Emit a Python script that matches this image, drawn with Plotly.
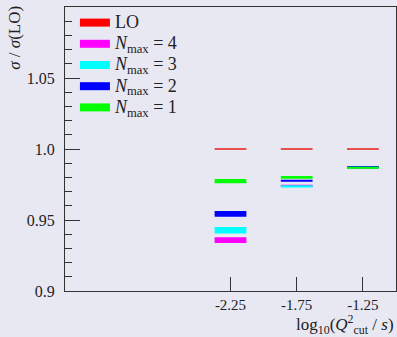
import plotly.graph_objects as go

x_cut = [-2.25, -1.75, -1.25]
lo = [1.0, 1.0, 1.0]
n4 = [0.9358, 0.9740, 0.9871]
n3 = [0.9428, 0.9737, 0.9871]
n2 = [0.9543, 0.9776, 0.9872]
n1 = [0.9774, 0.9800, 0.9868]
h_lo = [0.0006, 0.0006, 0.0006]
h4 = [0.0040, 0.0015, 0.0015]
h3 = [0.0045, 0.0017, 0.0015]
h2 = [0.0040, 0.0015, 0.0015]
h1 = [0.0030, 0.0020, 0.0015]

series = [
    ("LO", lo, h_lo, "#ff0000"),
    ("<i>N</i><sub>max</sub> = 4", n4, h4, "#ff00ff"),
    ("<i>N</i><sub>max</sub> = 3", n3, h3, "#00ffff"),
    ("<i>N</i><sub>max</sub> = 2", n2, h2, "#0000ff"),
    ("<i>N</i><sub>max</sub> = 1", n1, h1, "#00ff00"),
]

fig = go.Figure()
for i, (name, vals, hs, col) in enumerate(series):
    fig.add_trace(go.Bar(
        x=x_cut, y=hs, base=[v - h / 2 for v, h in zip(vals, hs)],
        width=0.24, marker=dict(color=col if i else "#e85050", line=dict(width=0)),
        showlegend=False, hoverinfo="skip"))
for name, vals, hs, col in series:
    fig.add_trace(go.Scatter(x=[None], y=[None], mode="lines",
                             name='<span style="font-size:18px">' + name + "</span>",
                             line=dict(color=col, width=8)))

serif = "Liberation Serif, DejaVu Serif, serif"
bg = "#e8e8f3"
fig.update_layout(
    width=397, height=337,
    margin=dict(l=65, r=1, t=7, b=46),
    paper_bgcolor=bg, plot_bgcolor=bg,
    barmode="overlay",
    font=dict(family=serif, size=15, color="#222"),
    legend=dict(x=0.03, y=1.0, xanchor="left", yanchor="top",
                bgcolor="rgba(0,0,0,0)", font=dict(size=14, family=serif),
                tracegroupgap=0, itemwidth=30),
    xaxis=dict(range=[-3.5, -1.0], tickvals=x_cut,
               ticktext=["-2.25", "-1.75", "-1.25"],
               ticks="inside", ticklen=14, tickcolor="#333",
               showline=True, linecolor="#333", linewidth=1, mirror=True,
               showgrid=False, zeroline=False, tickfont=dict(size=15)),
    yaxis=dict(range=[0.9, 1.1], tickvals=[0.9, 0.95, 1.0, 1.05, 1.1],
               ticktext=["0.9", "0.95", "1.0", "1.05", ""],
               ticks="inside", ticklen=15, tickcolor="#333",
               minor=dict(dtick=0.01, ticks="inside", ticklen=7, tickcolor="#333"),
               showline=True, linecolor="#333", linewidth=1, mirror=True,
               showgrid=False, zeroline=False, tickfont=dict(size=16),
               ticklabelstandoff=6),
    annotations=[
        dict(text="<i>σ</i> / <i>σ</i>(LO)", xref="paper", yref="paper",
             x=-0.155, y=1.01, xanchor="center", yanchor="top", textangle=-90,
             showarrow=False, font=dict(size=17, family=serif)),
        dict(text="log<sub>10</sub>(<i>Q</i><sup>2</sup><sub>cut</sub> / <i>s</i>)",
             xref="paper", yref="paper", x=1.0, y=-0.066, xanchor="right",
             yanchor="top", showarrow=False, font=dict(size=17, family=serif)),
    ],
)
fig.write_html("out.html")
